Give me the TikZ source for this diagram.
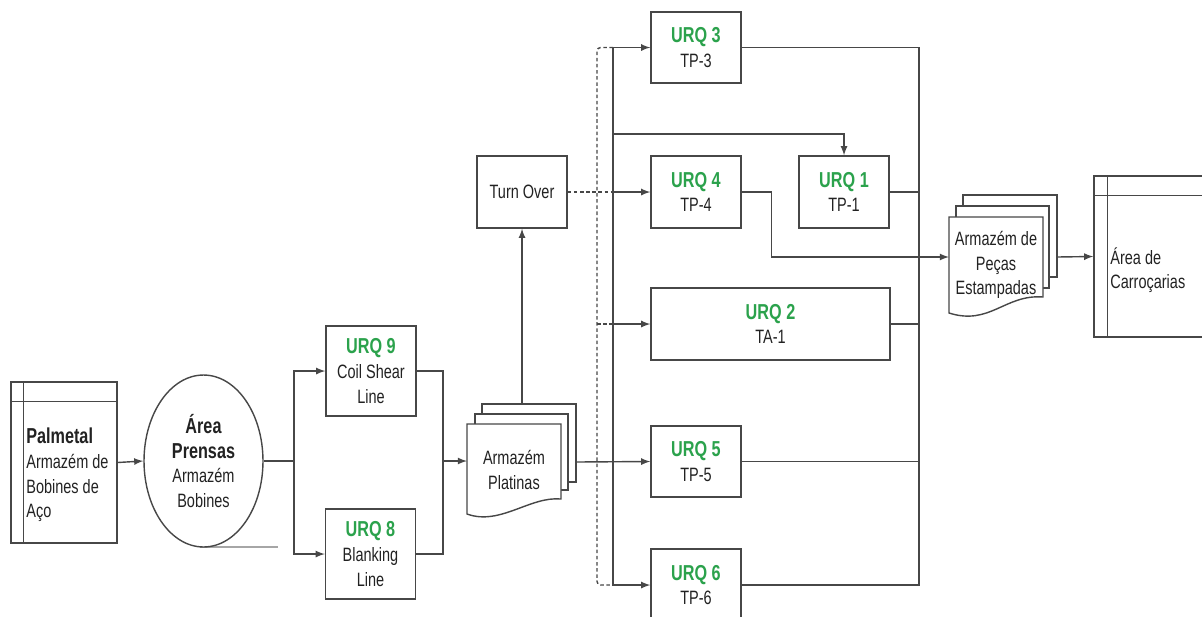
\documentclass[tikz,border=0pt]{standalone}
\usepackage{fontspec}
\setmainfont{Liberation Sans}[FakeStretch=0.75]
\usetikzlibrary{shapes.geometric}
\definecolor{urqgreen}{HTML}{2BA24C}
\definecolor{linegray}{HTML}{474747}
\definecolor{txtgray}{HTML}{222222}
\newcommand{\urqlabel}[1]{{\fontsize{12.3}{14}\selectfont\bfseries\color{urqgreen}#1}}
\newcommand{\boldlabel}[1]{{\fontsize{12.3}{14}\selectfont\bfseries #1}}
\begin{document}
\begin{tikzpicture}[x=0.02cm,y=-0.02cm,>=latex,
    every node/.style={font=\fontsize{11}{14}\selectfont,text=txtgray},
    flow/.style={draw=linegray,line width=0.8pt},
    dashline/.style={draw=linegray,line width=0.8pt,dash pattern=on 2pt off 1.5pt,rounded corners=2pt},
    box/.style={flow,fill=white,align=center,inner sep=0pt,minimum width=1.8cm,minimum height=1.44cm}]
    \useasboundingbox (0,0) rectangle (1202,616);
    % Palmetal
    \node[box,minimum width=2.12cm,minimum height=3.22cm] (palmetal) at (64,462.5) {};
    \draw[flow] (palmetal.north west) ++(13,0) -- ++(0,161);% inner line
    \draw[flow] (palmetal.north west) ++(0,20) -- ++(106,0);% inner line
    \node[anchor=west,align=left,inner sep=0pt] (palmetaltxt) at (26,475) {\boldlabel{Palmetal}\\Armazém de\\Bobines de\\Aço};
    % Area Prensas
    \draw[draw=gray!70,line width=0.8pt] (200,547) -- (278,547);
    \node[flow,ellipse,fill=white,minimum width=2.38cm,minimum height=3.44cm,inner sep=0pt,align=center] (prensas) at (203.5,461) {\boldlabel{Área}\\\boldlabel{Prensas}\\Armazém\\Bobines};
    \draw[flow,->] (palmetal.east) -- (prensas.west);
    % URQ 9 and URQ 8
    \node[box,minimum height=1.8cm] (urq9) at (371,371) {\urqlabel{URQ 9}\\Coil Shear\\Line};
    \node[box,minimum height=1.8cm] (urq8) at (370.5,554) {\urqlabel{URQ 8}\\Blanking\\Line};
    \coordinate (split) at (294,461);
    \coordinate (merge) at (443,461);
    \draw[flow] (prensas.east) -- (split);
    \draw[flow,->] (split) |- (urq9.west);
    \draw[flow,->] (split) |- (urq8.west);
    \draw[flow] (urq9.east) -| (merge) |- (urq8.east);
    % Armazem Platinas
    \filldraw[flow,fill=white] (482,404) rectangle (576,482);
    \filldraw[flow,fill=white] (475,414) rectangle (568,490);
    \filldraw[flow,fill=white] (467,424) -- (561,424) -- (561,499) .. controls (530,496) and (500,526) .. (467,514) -- cycle;
    \node[align=center] (platinas) at (514,470) {Armazém\\Platinas};
    \coordinate (platL) at (467,461);
    \coordinate (platR) at (576,462);
    \coordinate (platT) at (522,404);
    \draw[flow,->] (merge) -- (platL);
    % Turn Over
    \node[box] (turnover) at (522,192) {Turn Over};
    \draw[flow,->] (platT) -- (turnover.south);
    % URQ column
    \node[box,minimum height=1.42cm] (urq3) at (696,47.5) {\urqlabel{URQ 3}\\TP-3};
    \node[box] (urq4) at (696,192) {\urqlabel{URQ 4}\\TP-4};
    \node[box] (urq1) at (844,192) {\urqlabel{URQ 1}\\TP-1};
    \node[box,minimum width=4.78cm] (urq2) at (770.5,324) {\urqlabel{URQ 2}\\TA-1};
    \node[box,minimum height=1.42cm] (urq5) at (696,461.5) {\urqlabel{URQ 5}\\TP-5};
    \node[box] (urq6) at (696,585) {\urqlabel{URQ 6}\\TP-6};
    % feed lines
    \coordinate (bus) at (613,462);
    \coordinate (urq1in) at (613,134);
    \draw[flow,->] (platR) -- (urq5.west);
    \draw[flow,->] (bus) |- (urq3.west);
    \draw[flow,->] (bus) |- (urq6.west);
    \draw[flow,->] (bus |- urq4.west) -- (urq4.west);
    \draw[flow,->] (bus |- urq2.west) -- (urq2.west);
    \draw[flow,->] (urq1in) -| (urq1.north);
    % dashed lines from Turn Over
    \coordinate (dashx) at (597,324);
    \draw[dashline] (turnover.east) -- (bus |- turnover.east);
    \draw[dashline] (bus |- urq3.west) -| (dashx) |- (bus |- urq6.west);
    \draw[dashline] (dashx) -- (bus |- urq2.west);
    % right collector
    \coordinate (rbus) at (919,0);
    \draw[flow] (urq3.east) -- (urq3.east -| rbus) -- (urq6.east -| rbus) -- (urq6.east);
    \foreach \n in {urq1,urq2,urq5}
        \draw[flow] (\n.east) -- (\n.east -| rbus);
    % Armazem de Pecas Estampadas
    \filldraw[flow,fill=white] (963,195) rectangle (1057,277);
    \filldraw[flow,fill=white] (956,206) rectangle (1049,288);
    \filldraw[flow,fill=white] (949,217) -- (1043,217) -- (1043,297) .. controls (1005,294) and (990,326) .. (949,313) -- cycle;
    \node[align=center] (pecas) at (996,265) {Armazém de\\Peças\\Estampadas};
    \coordinate (pecasL) at (949,257);
    \coordinate (pecasR) at (1057,257);
    \draw[flow,->] (urq4.east) -- ++(30,0) |- (pecasL);
    % Area de Carrocarias
    \node[box,minimum width=2.52cm,minimum height=3.22cm] (carro) at (1157,256.5) {};
    \draw[flow] (carro.north west) ++(14,0) -- ++(0,161);% inner line
    \draw[flow] (carro.north west) ++(0,20) -- ++(126,0);% inner line
    \node[anchor=west,align=left,inner sep=0pt] (carrotxt) at (1110,270) {Área de\\Carroçarias};
    \draw[flow,->] (pecasR) -- (carro.west);
\end{tikzpicture}
\end{document}
